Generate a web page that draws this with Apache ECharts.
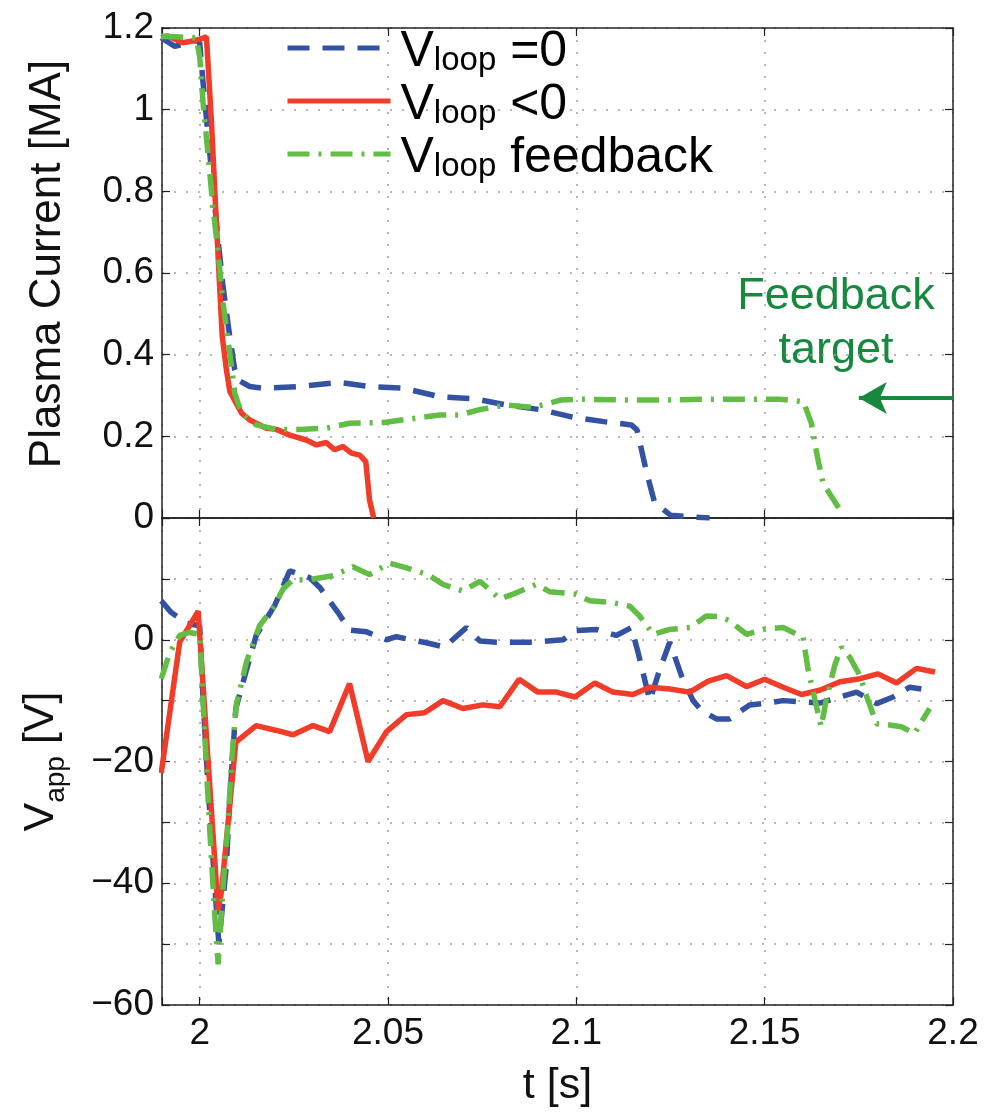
<!DOCTYPE html>
<html lang="en">
<head>
    <meta charset="utf-8">
    <script src="https://cdn.jsdelivr.net/npm/echarts@6/dist/echarts.min.js"></script>
</head>
<body style="margin:0;background:#fff">
<div id="main" style="width:998px;height:1113px;"></div>
<script type="text/javascript">
    // time range and ticks
    var tRange = [1.99, 2.2];
    var ipRange = [0, 1.2];
    var vRange = [-60, 20];

    // plasma current [MA], pairs of [t, Ip]
    var blueTop = [[1.9898,1.176],[1.9934,1.155],[1.9991,1.17],[2.0,1.164],[2.0009,1.066],[2.0031,0.853],[2.0049,0.68],[2.0062,0.567],[2.008,0.444],[2.0093,0.363],[2.0102,0.338],[2.0133,0.322],[2.0168,0.318],[2.0266,0.322],[2.0372,0.332],[2.0451,0.322],[2.054,0.318],[2.0637,0.297],[2.073,0.292],[2.0813,0.277],[2.0907,0.265],[2.099,0.247],[2.1073,0.236],[2.1146,0.228],[2.1161,0.216],[2.1187,0.11],[2.1208,0.037],[2.125,0.007],[2.13,0.003],[2.1354,0.0]];
    var redTop = [[1.9898,1.176],[1.9914,1.181],[1.9955,1.164],[1.9992,1.17],[2.0018,1.178],[2.0031,0.975],[2.0044,0.73],[2.0053,0.567],[2.006,0.444],[2.0071,0.363],[2.008,0.31],[2.0111,0.257],[2.0133,0.24],[2.0177,0.22],[2.0204,0.217],[2.0239,0.203],[2.0283,0.191],[2.031,0.179],[2.0336,0.185],[2.0358,0.167],[2.038,0.175],[2.0403,0.159],[2.0425,0.154],[2.0441,0.138],[2.0451,0.044],[2.0462,0.0]];
    var greenTop = [[1.9898,1.18],[1.9947,1.178],[1.9991,1.176],[2.0,1.13],[2.0009,1.017],[2.0022,0.894],[2.0035,0.763],[2.0049,0.649],[2.0062,0.527],[2.008,0.404],[2.0093,0.306],[2.0111,0.257],[2.015,0.228],[2.0204,0.217],[2.0265,0.217],[2.0336,0.22],[2.0398,0.232],[2.049,0.234],[2.0554,0.242],[2.0637,0.252],[2.0689,0.252],[2.0741,0.265],[2.0814,0.277],[2.0886,0.271],[2.0959,0.289],[2.1021,0.291],[2.1125,0.289],[2.1229,0.289],[2.1333,0.291],[2.1437,0.291],[2.154,0.291],[2.1603,0.285],[2.1624,0.232],[2.164,0.15],[2.1655,0.085],[2.1697,0.024]];

    // applied voltage [V], pairs of [t, V]
    var blueBottom = [[1.9898,6.4],[1.9924,4.5],[1.9965,2.7],[2.0,2.3],[2.0009,-9.7],[2.0022,-23.9],[2.004,-40.2],[2.0051,-50.0],[2.0071,-36.9],[2.008,-26.0],[2.0096,-11.3],[2.012,-5.9],[2.015,0.7],[2.0199,5.6],[2.0239,11.3],[2.0292,10.2],[2.0319,8.6],[2.0367,4.5],[2.0398,1.6],[2.0443,1.3],[2.0496,0.0],[2.0522,0.5],[2.0602,-0.5],[2.065,-1.2],[2.0708,2.0],[2.0744,-0.2],[2.0788,-0.4],[2.0885,-0.4],[2.0965,0.0],[2.0996,1.5],[2.1053,1.7],[2.1106,0.7],[2.1146,2.0],[2.1164,-2.1],[2.1195,-10.0],[2.1222,-4.8],[2.1248,-0.4],[2.1279,-5.9],[2.131,-10.0],[2.1332,-11.6],[2.1372,-13.0],[2.1407,-13.0],[2.146,-10.7],[2.1496,-10.5],[2.1549,-10.0],[2.1646,-10.4],[2.17,-9.4],[2.1744,-8.6],[2.1797,-10.5],[2.1841,-9.4],[2.1885,-7.8],[2.1916,-8.1]];
    var redBottom = [[1.9898,-21.9],[1.9947,-0.4],[1.9996,4.7],[2.0022,-19.5],[2.0049,-44.5],[2.0058,-41.3],[2.008,-27.1],[2.0096,-16.8],[2.015,-14.1],[2.0204,-14.9],[2.0248,-15.6],[2.0301,-14.1],[2.0345,-15.1],[2.0398,-7.2],[2.0447,-20.0],[2.0496,-15.1],[2.0549,-12.3],[2.0597,-12.0],[2.0646,-10.0],[2.0699,-11.3],[2.0752,-10.7],[2.0797,-11.0],[2.0848,-6.5],[2.0898,-8.6],[2.0947,-8.6],[2.0996,-9.4],[2.1049,-7.1],[2.1097,-8.6],[2.115,-9.0],[2.1195,-7.8],[2.1248,-8.1],[2.1301,-8.6],[2.135,-6.8],[2.1399,-5.9],[2.1452,-7.7],[2.15,-6.5],[2.1549,-7.8],[2.1598,-9.0],[2.1646,-8.3],[2.17,-6.9],[2.1753,-6.4],[2.1801,-5.6],[2.185,-7.1],[2.1903,-4.7],[2.1952,-5.3]];
    var greenBottom = [[1.9898,-6.4],[1.9921,-2.1],[1.9947,0.7],[1.9973,1.2],[2.0,0.9],[2.0013,-15.1],[2.0027,-31.5],[2.004,-45.1],[2.0049,-53.3],[2.0062,-40.7],[2.0075,-30.4],[2.0084,-20.6],[2.0097,-10.8],[2.0124,-3.7],[2.0159,2.3],[2.0199,5.6],[2.0221,8.3],[2.0248,9.9],[2.0283,9.8],[2.0354,10.5],[2.0407,12.0],[2.0451,10.7],[2.0504,12.6],[2.0549,11.8],[2.0606,10.7],[2.0646,9.1],[2.0699,8.0],[2.0744,9.6],[2.0797,6.7],[2.0832,7.5],[2.0894,9.1],[2.0929,7.9],[2.0996,7.5],[2.1036,6.4],[2.1097,6.1],[2.1142,5.5],[2.1168,3.9],[2.1204,0.9],[2.1248,1.7],[2.1301,2.0],[2.1345,3.9],[2.1381,3.8],[2.1407,3.1],[2.1452,0.9],[2.1496,1.7],[2.1549,2.0],[2.1602,0.4],[2.1615,-4.8],[2.1637,-10.8],[2.165,-14.3],[2.1664,-9.7],[2.1686,-4.2],[2.1704,-1.2],[2.1726,-2.9],[2.1753,-5.9],[2.177,-9.2],[2.1797,-13.8],[2.1832,-14.0],[2.1863,-14.3],[2.1898,-15.4],[2.1921,-13.0],[2.1938,-11.3]];

    // feedback target arrow: from t=2.2 to t=2.175 at Ip=0.294
    var arrowT = [2.2, 2.175];
    var arrowIp = 0.294;

    var names = ['V_loop =0', 'V_loop <0', 'V_loop feedback'];
    var legendText = {
        'V_loop =0': '{p| }{v|V}{s|loop}{v| =0}',
        'V_loop <0': '{p| }{v|V}{s|loop}{v| <0}',
        'V_loop feedback': '{p| }{v|V}{s|loop}{v| feedback}'
    };

    var FONT = "'Liberation Sans', Arial, Helvetica, sans-serif";
    var BLUE = '#3452a4', RED = '#f03c28', GREEN = '#62bd45', DARKGREEN = '#17893f';
    var DASH = [22, 13], DASHDOT = [22, 9, 3, 9];

    var myChart = echarts.init(document.getElementById('main'));

    function xAxisCfg(gridIndex, pos, showLabels) {
        return {
            type: 'value', gridIndex: gridIndex, position: pos,
            min: tRange[0], max: tRange[1], splitNumber: 5,
            axisLine: {show: true, onZero: false, lineStyle: {color: '#222', width: 1.5}},
            axisTick: {show: true, inside: true, length: 8, lineStyle: {color: '#222', width: 1.2}},
            axisLabel: {
                show: showLabels, margin: 10, fontSize: 37, color: '#111', fontFamily: FONT,
                formatter: function (v) { return v < 1.995 ? '' : String(+v.toFixed(2)); }
            },
            splitLine: {show: pos === 'bottom', lineStyle: {color: '#a0a0a0', width: 1.5, type: [2, 10]}},
            name: (gridIndex === 1 && pos === 'bottom') ? 't [s]' : '',
            nameLocation: 'middle', nameGap: 60,
            nameTextStyle: {fontSize: 43, color: '#111', fontFamily: FONT}
        };
    }

    function yAxisCfg(gridIndex, pos, range, step, labelFn, name, nameStyle) {
        return {
            type: 'value', gridIndex: gridIndex, position: pos,
            min: range[0], max: range[1], interval: step,
            axisLine: {show: true, onZero: false, lineStyle: {color: '#222', width: 1.5}},
            axisTick: {show: true, inside: true, length: 8, lineStyle: {color: '#222', width: 1.2}},
            axisLabel: {show: pos === 'left', margin: 8, fontSize: 37, color: '#111', fontFamily: FONT, formatter: labelFn},
            splitLine: {show: pos === 'left', lineStyle: {color: '#a0a0a0', width: 1.5, type: [2, 10]}},
            name: pos === 'left' ? name : '',
            nameLocation: 'middle', nameRotate: 90, nameGap: 92,
            nameTextStyle: nameStyle
        };
    }

    var ipLabel = function (v) { return String(+v.toFixed(1)); };
    var vLabel = function (v) {
        if (v % 20 !== 0 || v >= 20) return '';
        return v < 0 ? '\u2212' + Math.abs(v) : String(v);
    };

    function lineSeries(name, data, xi, yi, color, dash) {
        return {
            name: name, type: 'line', xAxisIndex: xi, yAxisIndex: yi,
            data: data, showSymbol: false, symbol: 'none', clip: true,
            lineStyle: {color: color, width: 5.5, type: dash},
            itemStyle: {color: color}
        };
    }

    var option = {
        animation: false,
        grid: [
            {left: 162, right: 45, top: 28, height: 490},
            {left: 162, right: 45, top: 518, height: 487}
        ],
        legend: {
            data: names, orient: 'vertical', left: 285, top: 19, padding: 0,
            itemWidth: 103, itemHeight: 20, itemGap: -5,
            itemStyle: {opacity: 0, borderWidth: 0},
            lineStyle: {width: 5},
            formatter: function (n) { return legendText[n]; },
            textStyle: {
                color: '#000',
                rich: {
                    p: {fontSize: 18, fontFamily: FONT},
                    v: {fontSize: 50, lineHeight: 58, padding: [8, 0, 0, 0], verticalAlign: 'top', fontFamily: FONT, color: '#000'},
                    s: {fontSize: 33, lineHeight: 24, verticalAlign: 'bottom', fontFamily: FONT, color: '#000'}
                }
            }
        },
        xAxis: [
            xAxisCfg(0, 'bottom', false),
            xAxisCfg(0, 'top', false),
            xAxisCfg(1, 'bottom', true),
            xAxisCfg(1, 'top', false)
        ],
        yAxis: [
            yAxisCfg(0, 'left', ipRange, 0.2, ipLabel, 'Plasma Current [MA]',
                {fontSize: 44, color: '#111', fontFamily: FONT, padding: [0, 0, 0, 18]}),
            yAxisCfg(0, 'right', ipRange, 0.2, ipLabel, '', {}),
            yAxisCfg(1, 'left', vRange, 10, vLabel, '{v|V}{s|app}{v| [V]}', {
                color: '#111',
                rich: {
                    v: {fontSize: 43, lineHeight: 50, verticalAlign: 'top', fontFamily: FONT, color: '#111'},
                    s: {fontSize: 28, lineHeight: 22, verticalAlign: 'bottom', fontFamily: FONT, color: '#111'}
                }
            }),
            yAxisCfg(1, 'right', vRange, 10, vLabel, '', {})
        ],
        series: [
            lineSeries(names[0], blueTop, 0, 0, BLUE, DASH),
            lineSeries(names[1], redTop, 0, 0, RED, 'solid'),
            (function () {
                var s = lineSeries(names[2], greenTop, 0, 0, GREEN, DASHDOT);
                s.markLine = {
                    silent: true, symbol: ['none', 'arrow'], symbolSize: [24, 28],
                    label: {show: false},
                    lineStyle: {color: DARKGREEN, width: 4, type: 'solid'},
                    data: [[{coord: [arrowT[0], arrowIp]}, {coord: [arrowT[1], arrowIp]}]]
                };
                return s;
            })(),
            lineSeries(names[0], blueBottom, 2, 2, BLUE, DASH),
            lineSeries(names[1], redBottom, 2, 2, RED, 'solid'),
            lineSeries(names[2], greenBottom, 2, 2, GREEN, DASHDOT)
        ],
        graphic: [{
            type: 'text', x: 836, y: 270, silent: true,
            style: {
                text: 'Feedback\ntarget', fill: DARKGREEN,
                fontSize: 45, fontFamily: FONT, lineHeight: 54,
                align: 'center', verticalAlign: 'top'
            }
        }]
    };

    myChart.setOption(option);
</script>
</body>
</html>
